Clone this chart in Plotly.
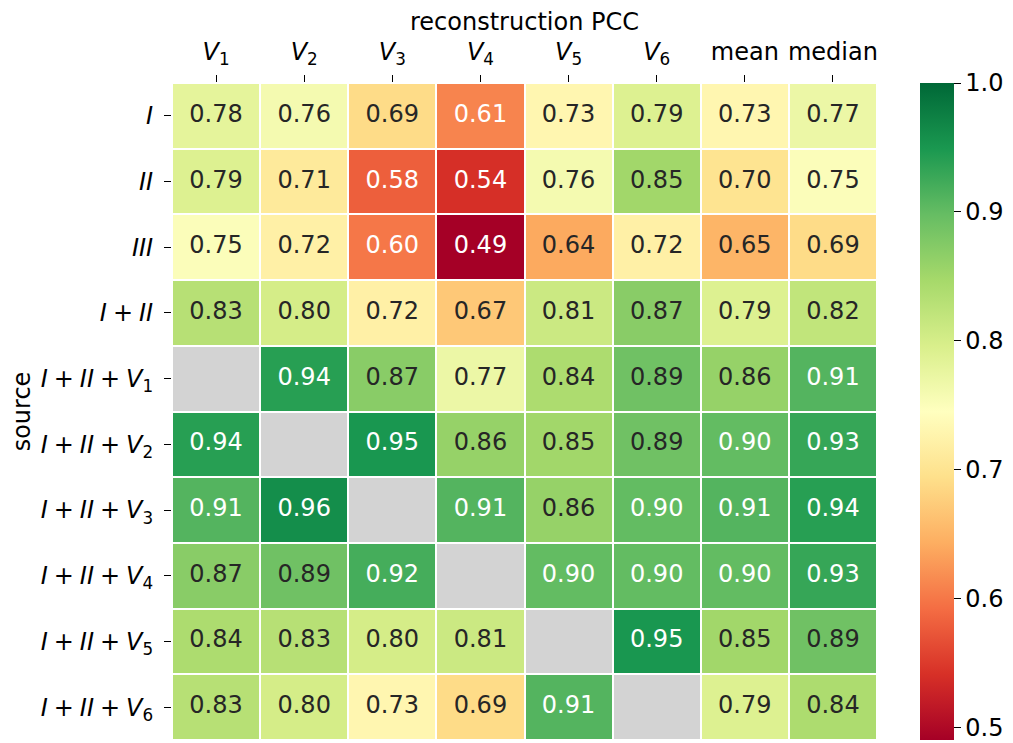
import numpy as np
import plotly.graph_objects as go

# columns / rows of the heatmap
cols = ["<i>V</i><sub>1</sub>", "<i>V</i><sub>2</sub>", "<i>V</i><sub>3</sub>", "<i>V</i><sub>4</sub>",
        "<i>V</i><sub>5</sub>", "<i>V</i><sub>6</sub>", "mean", "median"]
sp = "\u2005"  # narrower space around "+", like mathtext
rows = ["<i>I</i>", "<i>II</i>", "<i>III</i>", f"<i>I</i>{sp}+{sp}<i>II</i>",
        f"<i>I</i>{sp}+{sp}<i>II</i>{sp}+{sp}<i>V</i><sub>1</sub>",
        f"<i>I</i>{sp}+{sp}<i>II</i>{sp}+{sp}<i>V</i><sub>2</sub>",
        f"<i>I</i>{sp}+{sp}<i>II</i>{sp}+{sp}<i>V</i><sub>3</sub>",
        f"<i>I</i>{sp}+{sp}<i>II</i>{sp}+{sp}<i>V</i><sub>4</sub>",
        f"<i>I</i>{sp}+{sp}<i>II</i>{sp}+{sp}<i>V</i><sub>5</sub>",
        f"<i>I</i>{sp}+{sp}<i>II</i>{sp}+{sp}<i>V</i><sub>6</sub>"]

nan = np.nan
pcc_I = [0.78, 0.76, 0.69, 0.61, 0.73, 0.79, 0.73, 0.77]
pcc_II = [0.79, 0.71, 0.58, 0.54, 0.76, 0.85, 0.70, 0.75]
pcc_III = [0.75, 0.72, 0.60, 0.49, 0.64, 0.72, 0.65, 0.69]
pcc_I_II = [0.83, 0.80, 0.72, 0.67, 0.81, 0.87, 0.79, 0.82]
pcc_V1 = [nan, 0.94, 0.87, 0.77, 0.84, 0.89, 0.86, 0.91]
pcc_V2 = [0.94, nan, 0.95, 0.86, 0.85, 0.89, 0.90, 0.93]
pcc_V3 = [0.91, 0.96, nan, 0.91, 0.86, 0.90, 0.91, 0.94]
pcc_V4 = [0.87, 0.89, 0.92, nan, 0.90, 0.90, 0.90, 0.93]
pcc_V5 = [0.84, 0.83, 0.80, 0.81, nan, 0.95, 0.85, 0.89]
pcc_V6 = [0.83, 0.80, 0.73, 0.69, 0.91, nan, 0.79, 0.84]

z = np.array([pcc_I, pcc_II, pcc_III, pcc_I_II, pcc_V1, pcc_V2,
              pcc_V3, pcc_V4, pcc_V5, pcc_V6])

# matplotlib RdYlGn
rdylgn = ['#a50026', '#d73027', '#f46d43', '#fdae61', '#fee08b', '#ffffbf',
          '#d9ef8b', '#a6d96a', '#66bd63', '#1a9850', '#006837']
cscale = [[i / 10, c] for i, c in enumerate(rdylgn)]

missing = np.where(np.isnan(z), 1.0, None)

FS = 24

fig = go.Figure()

# grey cells where there is no value
fig.add_trace(go.Heatmap(
    z=missing, x=cols, y=rows,
    colorscale=[[0, '#d3d3d3'], [1, '#d3d3d3']],
    showscale=False, xgap=2, ygap=2, hoverinfo='skip'
))

fig.add_trace(go.Heatmap(
    z=z, x=cols, y=rows,
    colorscale=cscale, zmin=0.49, zmax=1.0,
    xgap=2, ygap=2,
    colorbar=dict(
        thickness=34, len=1.0, lenmode='fraction', y=0.5, yanchor='middle',
        ypad=0, x=1.061, xpad=0, xanchor='left', outlinewidth=0,
        tickvals=[0.5, 0.6, 0.7, 0.8, 0.9, 1.0],
        ticktext=['0.5', '0.6', '0.7', '0.8', '0.9', '1.0'],
        ticks='outside', ticklen=7, tickcolor='black',
        tickfont=dict(size=FS, color='black')
    )
))

# cell labels, white on dark cells
tx, ty, tt, tc = [], [], [], []
for i, r in enumerate(rows):
    for j, c in enumerate(cols):
        v = z[i, j]
        if np.isnan(v):
            continue
        tx.append(c)
        ty.append(r)
        tt.append(f"{v:.2f}")
        tc.append('white' if (v <= 0.62 or v >= 0.895) else '#262626')

fig.add_trace(go.Scatter(
    x=tx, y=ty, text=tt, mode='text',
    textfont=dict(size=FS, color=tc, family='DejaVu Sans'),
    hoverinfo='skip', showlegend=False
))

# page body has an 8px margin, so the figure is shrunk by that much
fig.update_layout(
    width=1005, height=735,
    margin=dict(l=164, r=136, t=75, b=3, autoexpand=False),
    plot_bgcolor='white', paper_bgcolor='white',
    font=dict(family='DejaVu Sans', size=FS, color='black'),
    showlegend=False,
    xaxis=dict(
        side='top', showgrid=False, zeroline=False, automargin=False,
        ticks='outside', ticklen=7, tickcolor='black', ticklabelstandoff=5,
        tickfont=dict(size=FS),
        title=dict(text='reconstruction PCC', font=dict(size=FS), standoff=4)
    ),
    yaxis=dict(
        autorange='reversed', showgrid=False, zeroline=False, automargin=False,
        ticks='outside', ticklen=7, tickcolor='black', ticklabelstandoff=6,
        tickfont=dict(size=FS),
        title=dict(text='source', font=dict(size=FS), standoff=14)
    )
)

fig.write_html("out.html")
